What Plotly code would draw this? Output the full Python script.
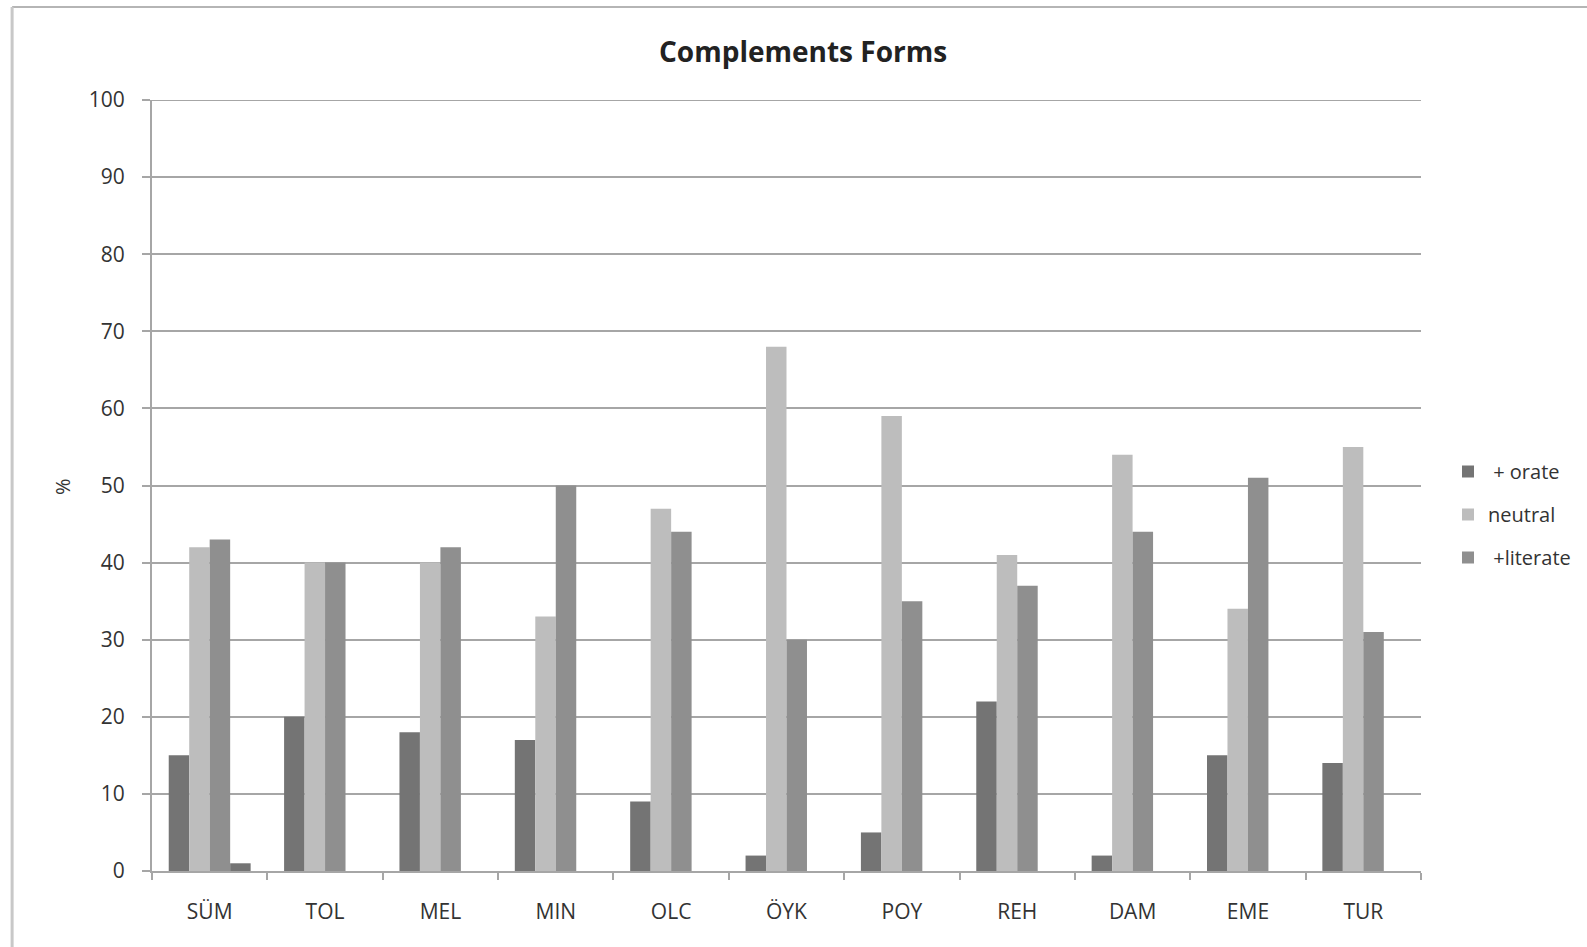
import plotly.graph_objects as go

categories = ["SÜM", "TOL", "MEL", "MIN", "OLC", "ÖYK", "POY", "REH", "DAM", "EME", "TUR"]
orate = [15, 20, 18, 17, 9, 2, 5, 22, 2, 15, 14]
neutral = [42, 40, 40, 33, 47, 68, 59, 41, 54, 34, 55]
literate = [43, 40, 42, 50, 44, 30, 35, 37, 44, 51, 31]
extra = [1, None, None, None, None, None, None, None, None, None, None]

y_ticks = list(range(0, 101, 10))

FONT = "Open Sans, DejaVu Sans, sans-serif"
GRID = "#a6a6a6"

fig = go.Figure()
series = [
    ("\u00a0+ orate", orate, "#747474", True),
    ("neutral", neutral, "#bdbdbd", True),
    ("\u00a0+literate", literate, "#8f8f8f", True),
    ("extra", extra, "#747474", False),
]
for i, (name, vals, color, show) in enumerate(series):
    fig.add_trace(go.Bar(
        x=categories, y=vals, name=name,
        marker=dict(color=color, line=dict(width=0)),
        showlegend=show, legendgroup=f"g{i}",
    ))

W, H = 1587, 947
L, R, T, B = 152, 165, 100, 76
pw, ph = W - L - R, H - T - B

def px_x(x):
    return (x - L) / pw

def px_y(y):
    return (H - B - y) / ph

fig.update_layout(
    width=W, height=H,
    margin=dict(l=L, r=R, t=T, b=B),
    paper_bgcolor="white", plot_bgcolor="white",
    barmode="group", bargap=0.29, bargroupgap=0,
    font=dict(family=FONT, color="#333333"),
    showlegend=True,
    legend=dict(
        x=px_x(1448), y=px_y(452), xanchor="left", yanchor="top",
        traceorder="grouped", tracegroupgap=14,
        font=dict(size=20, color="#333333"),
        itemwidth=30, bgcolor="rgba(0,0,0,0)",
    ),
    xaxis=dict(
        showgrid=False, showline=True, linecolor=GRID, linewidth=2,
        ticks="outside", tickson="boundaries", ticklen=7, tickcolor=GRID, tickwidth=2,
        tickfont=dict(size=21, color="#333333"), ticklabelstandoff=21,
    ),
    yaxis=dict(
        range=[0, 100], tickvals=y_ticks, showgrid=True, gridcolor=GRID, gridwidth=2,
        showline=True, linecolor=GRID, linewidth=2,
        ticks="outside", ticklen=8, tickcolor=GRID, tickwidth=2,
        tickfont=dict(size=21, color="#333333"), ticklabelstandoff=13,
        zeroline=False,
    ),
    annotations=[
        dict(text="<b>Complements Forms</b>", x=px_x(804), y=px_y(51), xref="paper", yref="paper",
             xanchor="center", yanchor="middle",
             showarrow=False, font=dict(size=28, color="#222222", family=FONT)),
        dict(text="%", x=px_x(62), y=px_y(487), xref="paper", yref="paper",
             xanchor="center", yanchor="middle",
             showarrow=False, textangle=-90, font=dict(size=20, color="#333333", family=FONT)),
    ],
    shapes=[
        dict(type="line", xref="paper", yref="y", x0=0, x1=1, y0=100, y1=100,
             layer="below", line=dict(color=GRID, width=2)),
        dict(type="line", xref="paper", yref="paper", x0=px_x(12), x1=px_x(1600),
             y0=px_y(7), y1=px_y(7), line=dict(color="#b5b5b5", width=2)),
        dict(type="line", xref="paper", yref="paper", x0=px_x(12), x1=px_x(12),
             y0=px_y(7), y1=px_y(960), line=dict(color="#c8c8c8", width=3)),
    ],
)

fig.write_html("out.html")
